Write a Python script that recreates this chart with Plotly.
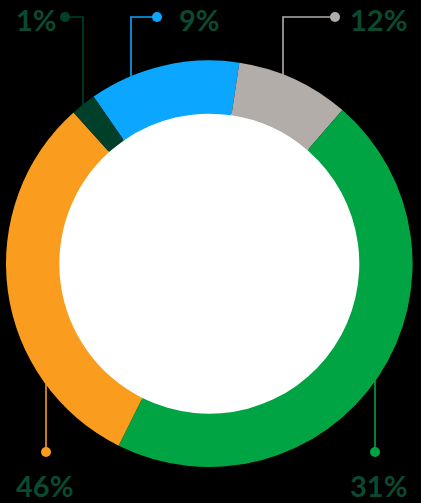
import plotly.graph_objects as go

# slices, clockwise from the top-left
slice_names = ["blue", "gray", "green", "orange", "dark green"]
slice_values = [12, 9, 46, 31, 2]
slice_colors = ["#0ba6ff", "#b3ada9", "#00a443", "#fa9c1d", "#00402a"]

# callout labels as printed on the chart
callout_text = ["1%", "9%", "12%", "46%", "31%"]
callout_colors = ["#00402a", "#0ba6ff", "#b3ada9", "#fa9c1d", "#00a443"]

W, H = 421, 503
CX, CY, R_OUT, R_IN = 209.3, 263.7, 203.3, 150.0


def px(x):
    return x / W


def py(y):
    return 1 - y / H


fig = go.Figure(go.Pie(
    labels=slice_names,
    values=slice_values,
    marker=dict(colors=slice_colors, line=dict(width=0)),
    hole=R_IN / R_OUT,
    sort=False,
    direction="clockwise",
    rotation=325.3,
    textinfo="none",
    hoverinfo="skip",
    showlegend=False,
    domain=dict(x=[px(CX - R_OUT), px(CX + R_OUT)], y=[py(CY + R_OUT), py(CY - R_OUT)]),
))

shapes = [dict(type="circle", xref="paper", yref="paper", layer="below",
               x0=px(CX - R_IN - 2), x1=px(CX + R_IN + 2),
               y0=py(CY + R_IN + 2), y1=py(CY - R_IN - 2),
               fillcolor="white", line=dict(width=0))]

# leader lines: (dot x, dot y, elbow x, end y)
leaders = [(65, 17, 83, 106), (157, 17, 131, 78), (335, 17, 283, 76),
           (46, 452, 46, 383), (375, 452, 375, 380)]
for (dx, dy, ex, ey), col in zip(leaders, callout_colors):
    path = f"M {px(dx)} {py(dy)} L {px(ex)} {py(dy)} L {px(ex)} {py(ey)}"
    shapes.append(dict(type="path", xref="paper", yref="paper", layer="below",
                       path=path, line=dict(color=col, width=1.6)))
    shapes.append(dict(type="circle", xref="paper", yref="paper",
                       x0=px(dx - 5), x1=px(dx + 5), y0=py(dy + 5), y1=py(dy - 5),
                       fillcolor=col, line=dict(width=0)))

# label anchors (left x, middle y)
label_pos = [(14, 19), (177, 19), (348, 19), (14, 485), (348, 485)]
annotations = []
for (lx, ly), txt in zip(label_pos, callout_text):
    annotations.append(dict(x=px(lx), y=py(ly), xref="paper", yref="paper",
                            text=txt, showarrow=False, xanchor="left", yanchor="middle",
                            font=dict(family="Lato", size=29, color="#0a4a30", weight="bold")))

fig.update_layout(
    width=W, height=H,
    margin=dict(l=0, r=0, t=0, b=0),
    paper_bgcolor="black",
    plot_bgcolor="black",
    shapes=shapes,
    annotations=annotations,
)

# drop the page's default body margin so the figure fills the window
fig.write_html("out.html", config={"displayModeBar": False},
               post_script="document.body.style.margin='0';document.body.style.background='black';")
